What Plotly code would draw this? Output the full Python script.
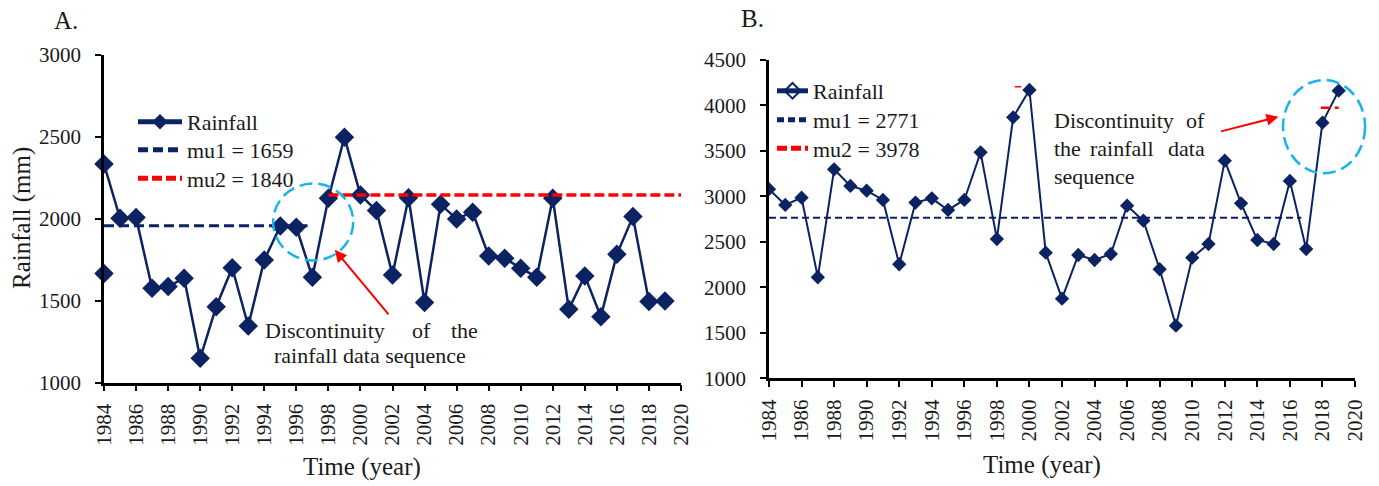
import plotly.graph_objects as go

# ---------------- data ----------------
years = list(range(1984, 2020))

rain_a = [2334, 2003, 2007, 1576, 1586, 1637, 1148, 1463, 1701, 1345, 1748, 1956,
          1948, 1643, 2125, 2498, 2145, 2050, 1657, 2129, 1488, 2088, 1999, 2040,
          1773, 1759, 1698, 1643, 2125, 1447, 1651, 1402, 1783, 2013, 1494, 1498]
stray_a_year = [1984]
stray_a_val = [1665]
mu1_a_x = [1984, 1996.7]
mu1_a_y = [1958, 1958]
mu2_a_x = [1998, 2020]
mu2_a_y = [2145, 2145]
legend_a = ["Rainfall", "mu1 = 1659", "mu2 = 1840"]

rain_b = [3080, 2906, 2986, 2111, 3298, 3115, 3063, 2961, 2254, 2932, 2979, 2851,
          2961, 3485, 2532, 3870, 4170, 2381, 1876, 2356, 2301, 2367, 2898, 2733,
          2199, 1579, 2326, 2477, 3393, 2924, 2521, 2477, 3170, 2422, 3811, 4163]
mu1_b_x = [1984, 2016.7]
mu1_b_y = [2766, 2766]
mu2_b_x = [2017.9, 2019.0]
mu2_b_y = [3976, 3976]
stray_b_x = [1999.1, 1999.5]
stray_b_y = [4207, 4207]
legend_b = ["Rainfall", "mu1 = 2771", "mu2 = 3978"]

x_ticks = list(range(1984, 2021, 2))

# ---------------- style ----------------
W, H = 1379, 486
NAVY = "#0B2263"
RED = "#FF0000"
CYAN = "#1AB2EC"
FONT = "Liberation Serif"
TXT = "#1a1a1a"

# panel pixel geometry
LA = dict(x0=104, x1=681, ybot=382.5, ytop=55, xr=(1984, 2020), yr=(1000, 3000))
RB = dict(x0=769, x1=1355, ybot=378.3, ytop=60, xr=(1984, 2020), yr=(1000, 4500))


def to_paper(p, xv, yv):
    px = p["x0"] + (xv - p["xr"][0]) / (p["xr"][1] - p["xr"][0]) * (p["x1"] - p["x0"])
    py = p["ybot"] + (yv - p["yr"][0]) / (p["yr"][1] - p["yr"][0]) * (p["ytop"] - p["ybot"])
    return px / W, (H - py) / H


fig = go.Figure()

# ---- panel A ----
fig.add_trace(go.Scatter(x=years, y=rain_a, mode="lines+markers", name=legend_a[0],
                         line=dict(color=NAVY, width=2.5),
                         marker=dict(symbol="diamond", size=15, color=NAVY),
                         cliponaxis=False, xaxis="x", yaxis="y", legend="legend"))
fig.add_trace(go.Scatter(x=stray_a_year, y=stray_a_val, mode="markers", showlegend=False,
                         marker=dict(symbol="diamond", size=15, color=NAVY),
                         cliponaxis=False, xaxis="x", yaxis="y"))
fig.add_trace(go.Scatter(x=mu1_a_x, y=mu1_a_y, mode="lines", name=legend_a[1],
                         line=dict(color=NAVY, width=3, dash="10px,5px"),
                         xaxis="x", yaxis="y", legend="legend3"))
fig.add_trace(go.Scatter(x=mu2_a_x, y=mu2_a_y, mode="lines", name=legend_a[2],
                         line=dict(color=RED, width=3.5, dash="10px,4px"),
                         xaxis="x", yaxis="y", legend="legend4"))

# ---- panel B ----
fig.add_trace(go.Scatter(x=years, y=rain_b, mode="lines+markers", showlegend=False,
                         line=dict(color=NAVY, width=2),
                         marker=dict(symbol="diamond", size=11, color=NAVY),
                         xaxis="x2", yaxis="y2"))
fig.add_trace(go.Scatter(x=[None], y=[None], mode="lines+markers", name=legend_b[0],
                         line=dict(color=NAVY, width=2.5),
                         marker=dict(symbol="diamond-open", size=9, color=NAVY,
                                     line=dict(width=2)),
                         xaxis="x2", yaxis="y2", legend="legend2"))
fig.add_trace(go.Scatter(x=mu1_b_x, y=mu1_b_y, mode="lines", name=legend_b[1],
                         line=dict(color=NAVY, width=2, dash="7px,4px"),
                         xaxis="x2", yaxis="y2", legend="legend5"))
fig.add_trace(go.Scatter(x=mu2_b_x, y=mu2_b_y, mode="lines", name=legend_b[2],
                         line=dict(color=RED, width=2.5, dash="10px,4px"),
                         xaxis="x2", yaxis="y2", legend="legend6"))
fig.add_trace(go.Scatter(x=stray_b_x, y=stray_b_y, mode="lines", showlegend=False,
                         line=dict(color=RED, width=1.5),
                         xaxis="x2", yaxis="y2"))

axis_common = dict(showline=True, linecolor="black", linewidth=2.5, ticks="outside",
                   ticklen=6, tickwidth=2, tickcolor="black", showgrid=False,
                   zeroline=False, automargin=False,
                   tickfont=dict(family=FONT, size=21, color=TXT))


def leg(px, py, itemwidth):
    return dict(x=px / W, y=(H - py) / H, xanchor="left", yanchor="middle",
                bgcolor="rgba(0,0,0,0)", font=dict(family=FONT, size=22, color=TXT),
                itemwidth=itemwidth, tracegroupgap=0, itemsizing="constant",
                borderwidth=0)


fig.update_layout(
    width=W, height=H, autosize=False,
    margin=dict(l=0, r=0, t=0, b=0, pad=0, autoexpand=False),
    paper_bgcolor="white", plot_bgcolor="white",
    font=dict(family=FONT, color=TXT),
    xaxis=dict(domain=[LA["x0"] / W, LA["x1"] / W], range=list(LA["xr"]), anchor="y",
               tickvals=x_ticks, tickangle=-90, ticklabelstandoff=4, **axis_common),
    yaxis=dict(domain=[(H - LA["ybot"]) / H, (H - LA["ytop"]) / H], range=list(LA["yr"]),
               anchor="x", dtick=500, ticklabelstandoff=10, **axis_common),
    xaxis2=dict(domain=[RB["x0"] / W, RB["x1"] / W], range=list(RB["xr"]), anchor="y2",
                tickvals=x_ticks, tickangle=-90, ticklabelstandoff=4, **axis_common),
    yaxis2=dict(domain=[(H - RB["ybot"]) / H, (H - RB["ytop"]) / H], range=list(RB["yr"]),
                anchor="x2", dtick=500, ticklabelstandoff=10, **axis_common),
    legend=leg(133, 122, 44),
    legend3=leg(133, 150, 44),
    legend4=leg(133, 178.5, 44),
    legend2=leg(772, 91, 31),
    legend5=leg(772, 120, 31),
    legend6=leg(772, 148.5, 31),
)

# ---- dashed circles ----
def circle(p, cx, cy, rx, ry):
    x0, y0 = to_paper(p, cx - rx, cy - ry)
    x1, y1 = to_paper(p, cx + rx, cy + ry)
    fig.add_shape(type="circle", xref="paper", yref="paper", x0=x0, x1=x1, y0=y0, y1=y1,
                  line=dict(color=CYAN, width=2.5, dash="13px,6px"), layer="above")

circle(LA, 1997.05, 1980, 2.5, 235)
circle(RB, 2018.1, 3767, 2.52, 513)

# ---- arrows ----
def arrow(p, hx, hy, ax, ay):
    x, y = to_paper(p, hx, hy)
    fig.add_annotation(x=x, y=y, xref="paper", yref="paper", ax=ax, ay=ay, text="",
                       showarrow=True, arrowhead=2, arrowsize=1.2, arrowwidth=2,
                       arrowcolor=RED)

arrow(LA, 1998.4, 1810, 55, 66)
arrow(RB, 2015.3, 3876, -59, 15)

# ---- text annotations ----
def txt(px, py, s, size=22, xanchor="left", angle=0):
    fig.add_annotation(x=px / W, y=(H - py) / H, xref="paper", yref="paper", text=s,
                       showarrow=False, xanchor=xanchor, yanchor="middle", textangle=angle,
                       font=dict(family=FONT, size=size, color=TXT))

# panel A note (justified)
txt(263, 330, "Discontinuity")
txt(421, 330, "of", xanchor="center")
txt(480, 330, "the", xanchor="right")
txt(370, 355, "rainfall data sequence", xanchor="center")
# panel B note (justified)
txt(1052, 120, "Discontinuity")
txt(1207, 120, "of", xanchor="right")
txt(1052, 148.5, "the")
txt(1122, 148.5, "rainfall", xanchor="center")
txt(1207, 148.5, "data", xanchor="right")
txt(1052, 177, "sequence")

# titles
txt(66, 21, "A.", size=25, xanchor="center")
txt(752, 19, "B.", size=25, xanchor="center")
txt(22, 218, "Rainfall (mm)", size=25, xanchor="center", angle=-90)
txt(362, 467, "Time (year)", size=25, xanchor="center")
txt(1042, 465, "Time (year)", size=25, xanchor="center")

fig.write_html("out.html", config={"displayModeBar": False},
               post_script="document.body.style.margin='0px';"
                           "document.body.style.overflow='hidden';")
